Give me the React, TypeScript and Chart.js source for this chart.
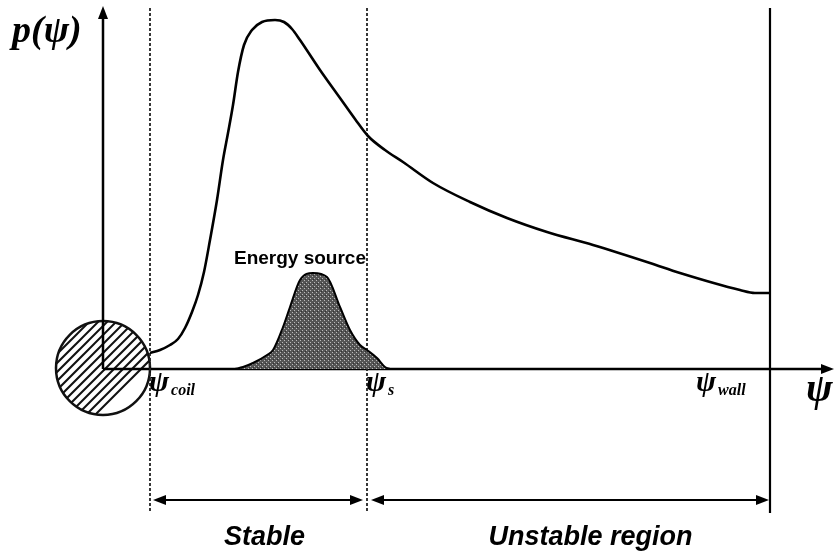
import React, { useEffect, useRef } from 'react';
import { Chart, registerables } from 'chart.js';
Chart.register(...registerables);

// p(psi) curve (arbitrary units, psi measured from the axis origin)
const CURVE_PSI = [47, 57, 67, 75, 82, 89, 95, 101, 107, 114, 120, 125, 130, 135, 141, 149, 159, 172, 181, 189, 197, 217, 237, 252, 265, 282, 300, 330, 367, 404, 444, 490, 547, 577, 637, 652, 667];
const CURVE_P = [16, 19, 24, 30, 41, 57, 74, 97, 129, 169, 209, 236, 264, 297, 324, 339, 347, 349, 347, 340, 329, 299, 271, 250, 233, 219, 207, 186, 167, 151, 137, 124, 106, 96, 79, 76, 76];

// Energy source profile
const SOURCE_PSI = [132, 140, 150, 164, 170, 180, 187, 197, 210, 224, 237, 247, 257, 264, 274, 282, 287];
const SOURCE_P = [0, 2, 6, 14, 19, 42, 62, 89, 96, 92, 62, 39, 24, 19, 11, 2, 0];

// Marker positions: psi_coil, psi_s, psi_wall
const MARKER_PSI = [47, 264, 667];
const MARKER_SUBS = ['coil', 's', 'wall'];
const REGION_LABELS = ['Stable', 'Unstable region'];
const SOURCE_LABEL = 'Energy source';
const Y_LABEL = 'p(\u03C8)';
const X_LABEL = '\u03C8';
const COIL_RADIUS = 47;

function arrowHead(ctx: CanvasRenderingContext2D, x: number, y: number, dir: 'l' | 'r' | 'u', len = 12, hw = 5) {
  ctx.beginPath();
  if (dir === 'r') { ctx.moveTo(x, y); ctx.lineTo(x - len, y - hw); ctx.lineTo(x - len, y + hw); }
  else if (dir === 'l') { ctx.moveTo(x, y); ctx.lineTo(x + len, y - hw); ctx.lineTo(x + len, y + hw); }
  else { ctx.moveTo(x, y); ctx.lineTo(x - hw, y + len); ctx.lineTo(x + hw, y + len); }
  ctx.closePath();
  ctx.fill();
}

const diagramPlugin = {
  id: 'diagram',
  beforeDatasetsDraw(chart: any) {
    const ctx: CanvasRenderingContext2D = chart.ctx;
    const xs = chart.scales.x, ys = chart.scales.y;
    const ox = xs.getPixelForValue(0), oy = ys.getPixelForValue(0);
    ctx.save();
    // hatched coil circle
    const r = xs.getPixelForValue(COIL_RADIUS) - ox;
    const cy = oy - 1;
    ctx.save();
    ctx.beginPath();
    ctx.arc(ox, cy, r, 0, Math.PI * 2);
    ctx.clip();
    ctx.strokeStyle = '#111';
    ctx.lineWidth = 2;
    for (let k = -2 * r; k < 2 * r; k += 9) {
      ctx.beginPath();
      ctx.moveTo(ox - r + k - r, cy + r);
      ctx.lineTo(ox - r + k + r, cy - r);
      ctx.stroke();
    }
    ctx.restore();
    ctx.beginPath();
    ctx.arc(ox, cy, r, 0, Math.PI * 2);
    ctx.lineWidth = 2.5;
    ctx.strokeStyle = '#111';
    ctx.stroke();

    // axes
    ctx.fillStyle = '#000';
    ctx.strokeStyle = '#000';
    ctx.lineWidth = 2.5;
    ctx.beginPath();
    ctx.moveTo(ox, oy);
    ctx.lineTo(ox, 14);
    ctx.stroke();
    arrowHead(ctx, ox, 6, 'u', 13, 5);
    ctx.beginPath();
    ctx.moveTo(ox, oy);
    ctx.lineTo(822, oy);
    ctx.stroke();
    arrowHead(ctx, 834, oy, 'r', 13, 5);

    // vertical marker lines
    MARKER_PSI.forEach((m, i) => {
      const px = xs.getPixelForValue(m);
      ctx.beginPath();
      if (i < 2) { ctx.setLineDash([3, 2]); ctx.lineWidth = 1.8; ctx.strokeStyle = '#222'; }
      else { ctx.setLineDash([]); ctx.lineWidth = 2.2; ctx.strokeStyle = '#000'; }
      ctx.moveTo(px, 8);
      ctx.lineTo(px, 513);
      ctx.stroke();
    });
    ctx.setLineDash([]);
    ctx.restore();
  },
  afterDatasetsDraw(chart: any) {
    const ctx: CanvasRenderingContext2D = chart.ctx;
    const xs = chart.scales.x, ys = chart.scales.y;
    const oy = ys.getPixelForValue(0);
    const mp = MARKER_PSI.map((m) => xs.getPixelForValue(m));
    ctx.save();
    ctx.fillStyle = '#000';
    ctx.strokeStyle = '#000';
    ctx.textBaseline = 'alphabetic';

    // y label
    ctx.font = 'italic bold 38px "Liberation Serif"';
    ctx.textAlign = 'left';
    ctx.fillText(Y_LABEL, 12, 42);

    // big x label
    ctx.font = 'italic bold 40px "Liberation Serif"';
    ctx.fillText(X_LABEL, 806, oy + 32);

    // marker labels
    MARKER_SUBS.forEach((s, i) => {
      const off = i === 2 ? -73 : 0;
      const x0 = mp[i] + off;
      ctx.font = 'italic bold 30px "Liberation Serif"';
      ctx.fillText('\u03C8', x0 - 1, oy + 22);
      const w = ctx.measureText('\u03C8').width;
      ctx.font = 'italic bold 16px "Liberation Serif"';
      ctx.fillText(s, x0 + w + 1, oy + 26);
    });

    // energy source label
    ctx.font = 'bold 19px "Liberation Sans"';
    ctx.textAlign = 'center';
    ctx.fillText(SOURCE_LABEL, xs.getPixelForValue(197), ys.getPixelForValue(105));

    // region arrows
    const ay = 500;
    ctx.lineWidth = 2.2;
    const segs = [[mp[0] + 3, mp[1] - 4], [mp[1] + 4, mp[2] - 1]];
    segs.forEach(([a, b]) => {
      ctx.beginPath();
      ctx.moveTo(a + 10, ay);
      ctx.lineTo(b - 10, ay);
      ctx.stroke();
      arrowHead(ctx, a, ay, 'l', 13, 5);
      arrowHead(ctx, b, ay, 'r', 13, 5);
    });

    // region labels
    ctx.font = 'italic bold 27px "Liberation Sans"';
    ctx.textAlign = 'center';
    ctx.fillText(REGION_LABELS[0], (mp[0] + mp[1]) / 2 + 6, 545);
    ctx.fillText(REGION_LABELS[1], (mp[1] + mp[2]) / 2 + 22, 545);
    ctx.restore();
  },
};

export default function App() {
  const ref = useRef<HTMLCanvasElement | null>(null);
  useEffect(() => {
    const canvas = ref.current!;
    const pc = document.createElement('canvas');
    pc.width = 4; pc.height = 4;
    const pctx = pc.getContext('2d')!;
    pctx.fillStyle = '#555';
    pctx.fillRect(0, 0, 4, 4);
    pctx.fillStyle = '#bbbbbb';
    pctx.fillRect(0, 0, 1, 1);
    pctx.fillRect(2, 2, 1, 1);
    pctx.fillStyle = '#333';
    pctx.fillRect(1, 3, 1, 1);
    const pattern = canvas.getContext('2d')!.createPattern(pc, 'repeat');

    const chart = new Chart(canvas, {
      type: 'scatter',
      data: {
        datasets: [
          {
            data: SOURCE_PSI.map((x, i) => ({ x, y: SOURCE_P[i] })),
            showLine: true,
            borderColor: '#000',
            borderWidth: 2,
            backgroundColor: pattern as any,
            fill: 'origin',
            pointRadius: 0,
            cubicInterpolationMode: 'monotone',
          },
          {
            data: CURVE_PSI.map((x, i) => ({ x, y: CURVE_P[i] })),
            showLine: true,
            borderColor: '#000',
            borderWidth: 2.6,
            fill: false,
            pointRadius: 0,
            cubicInterpolationMode: 'monotone',
          },
        ],
      },
      options: {
        responsive: false,
        animation: false,
        devicePixelRatio: 1,
        layout: { padding: 0 },
        plugins: { legend: { display: false }, tooltip: { enabled: false } },
        scales: {
          x: { type: 'linear', min: -103, max: 732, display: false },
          y: { type: 'linear', min: -191, max: 369, display: false },
        },
      },
      plugins: [diagramPlugin],
    });
    return () => chart.destroy();
  }, []);
  return (
    <div style={{ position: 'absolute', left: 0, top: 0, width: 835, height: 560, background: '#fff' }}>
      <canvas ref={ref} width={835} height={560} style={{ display: 'block' }} />
    </div>
  );
}
